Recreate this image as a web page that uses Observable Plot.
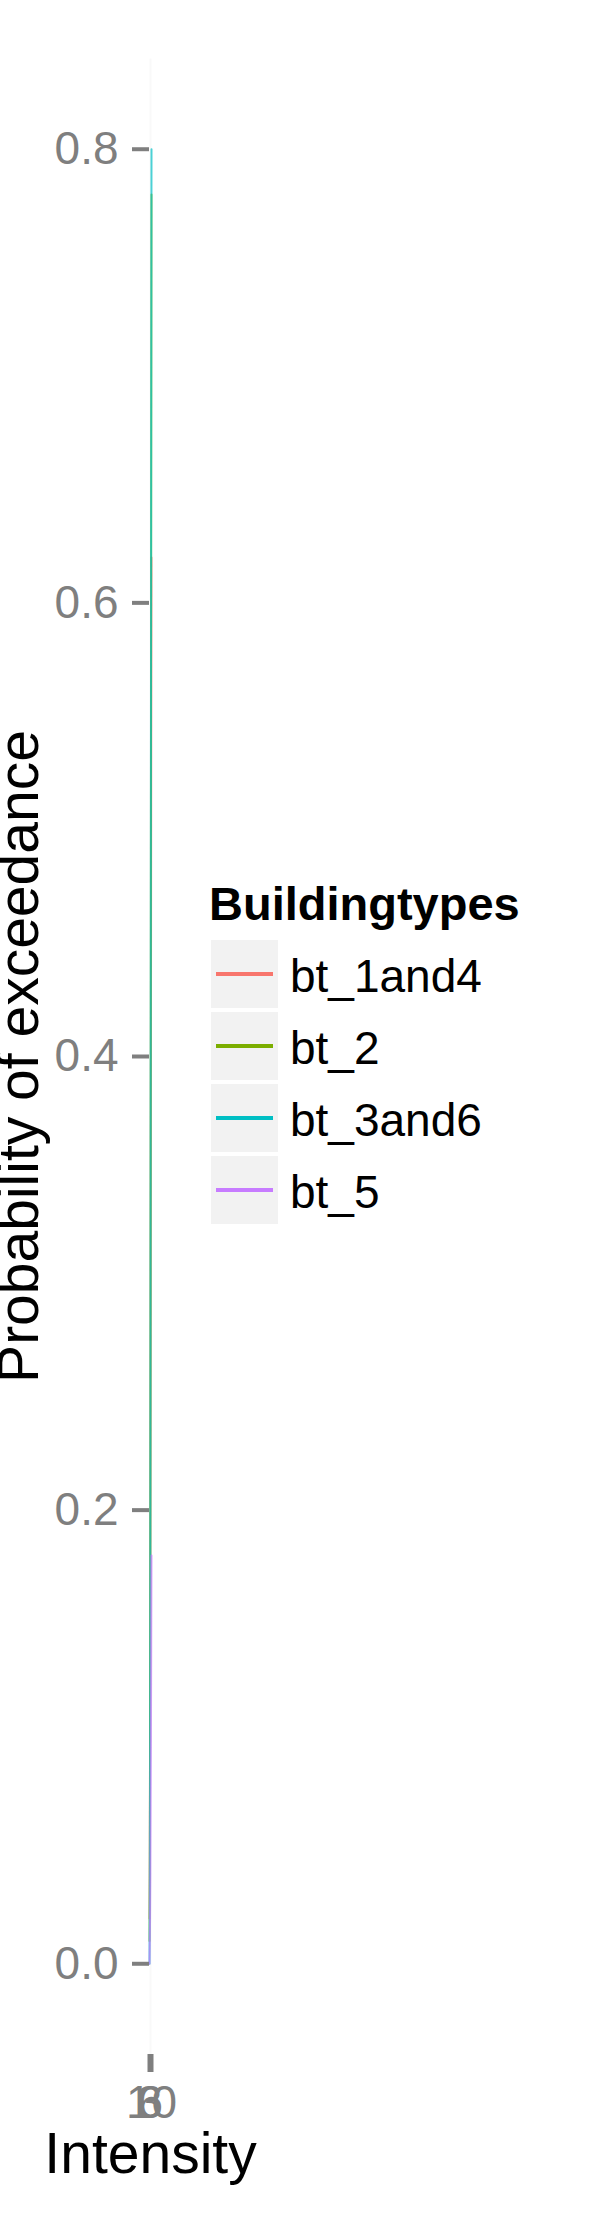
<!DOCTYPE html>
<html>
<head>
<meta charset="utf-8">
<script src="https://cdn.jsdelivr.net/npm/d3@7"></script>
<script src="https://cdn.jsdelivr.net/npm/@observablehq/plot@0.6"></script>
<style>
  body { margin: 0; background: #fff; }
  #wrap { position: relative; width: 595px; height: 2216px; font-family: "Liberation Sans", Arial, sans-serif; }
  #legend { position: absolute; left: 0; top: 0; }
</style>
</head>
<body>
<div id="wrap"></div>
<script>
// ---- data ----
const buildingTypes = ["bt_1and4", "bt_2", "bt_3and6", "bt_5"];
const typeColors = ["#F8766D", "#7CAE00", "#00BFC4", "#C77CFF"];
const intensity = [3, 4, 5, 6, 7, 8, 9, 10];
const bt_1and4 = [0.02, 0.05, 0.10, 0.18, 0.28, 0.40, 0.52, 0.62];
const bt_2     = [0.01, 0.04, 0.10, 0.20, 0.35, 0.50, 0.65, 0.78];
const bt_3and6 = [0.00, 0.03, 0.09, 0.20, 0.36, 0.53, 0.69, 0.80];
const bt_5     = [0.00, 0.01, 0.02, 0.04, 0.07, 0.10, 0.14, 0.18];
const xTicks = [3, 6, 10];
const yTicks = [0, 0.2, 0.4, 0.6, 0.8];

const seriesValues = [bt_1and4, bt_2, bt_3and6, bt_5];
const rows = [];
buildingTypes.forEach((t, i) => {
  intensity.forEach((x, j) => rows.push({type: t, intensity: x, p: seriesValues[i][j]}));
});

const grey = "#7f7f7f";
const chart = Plot.plot({
  width: 595,
  height: 2216,
  marginLeft: 149,
  marginRight: 444,
  marginTop: 58,
  marginBottom: 162,
  style: {fontFamily: "'Liberation Sans', Arial, sans-serif", background: "white", overflow: "visible"},
  x: {domain: [3, 10]},
  y: {domain: [-0.04, 0.84]},
  color: {domain: buildingTypes, range: typeColors},
  marks: [
    Plot.frame({fill: "#ebebeb", fillOpacity: 0.3, stroke: null}),
    Plot.line(rows, {x: "intensity", y: "p", z: "type", stroke: "type", strokeWidth: 2, strokeOpacity: 0.7}),
    Plot.axisY({ticks: yTicks, tickFormat: d3.format(".1f"), tickSize: 17, tickPadding: 14,
      fontSize: 46, color: grey, strokeWidth: 4, label: null}),
    Plot.axisX({ticks: xTicks, tickFormat: d => String(d), tickSize: 18, tickPadding: 13,
      fontSize: 46, color: grey, strokeWidth: 4, label: null}),
    Plot.text(["Intensity"], {frameAnchor: "bottom", dy: 118, lineAnchor: "bottom",
      textAnchor: "middle", fontSize: 57, fill: "black", text: d => d}),
    Plot.text(["Probability of exceedance"], {frameAnchor: "left", dx: -112, rotate: -90,
      textAnchor: "middle", lineAnchor: "bottom", fontSize: 57, fill: "black", text: d => d})
  ]
});
document.getElementById("wrap").appendChild(chart);

// ---- legend ----
const ns = "http://www.w3.org/2000/svg";
const leg = document.createElementNS(ns, "svg");
leg.setAttribute("id", "legend");
leg.setAttribute("width", 595);
leg.setAttribute("height", 2216);
leg.setAttribute("font-family", "'Liberation Sans', Arial, sans-serif");
const title = document.createElementNS(ns, "text");
title.setAttribute("x", 209);
title.setAttribute("y", 920);
title.setAttribute("font-size", 47);
title.setAttribute("font-weight", "bold");
title.textContent = "Buildingtypes";
leg.appendChild(title);
buildingTypes.forEach((t, i) => {
  const top = 940 + i * 72;
  const r = document.createElementNS(ns, "rect");
  r.setAttribute("x", 211); r.setAttribute("y", top);
  r.setAttribute("width", 67); r.setAttribute("height", 68);
  r.setAttribute("fill", "#f2f2f2");
  leg.appendChild(r);
  const l = document.createElementNS(ns, "line");
  l.setAttribute("x1", 216); l.setAttribute("x2", 273);
  l.setAttribute("y1", top + 34); l.setAttribute("y2", top + 34);
  l.setAttribute("stroke", typeColors[i]); l.setAttribute("stroke-width", 4);
  leg.appendChild(l);
  const tx = document.createElementNS(ns, "text");
  tx.setAttribute("x", 290); tx.setAttribute("y", top + 52);
  tx.setAttribute("font-size", 46);
  tx.textContent = t;
  leg.appendChild(tx);
});
document.getElementById("wrap").appendChild(leg);
</script>
</body>
</html>
